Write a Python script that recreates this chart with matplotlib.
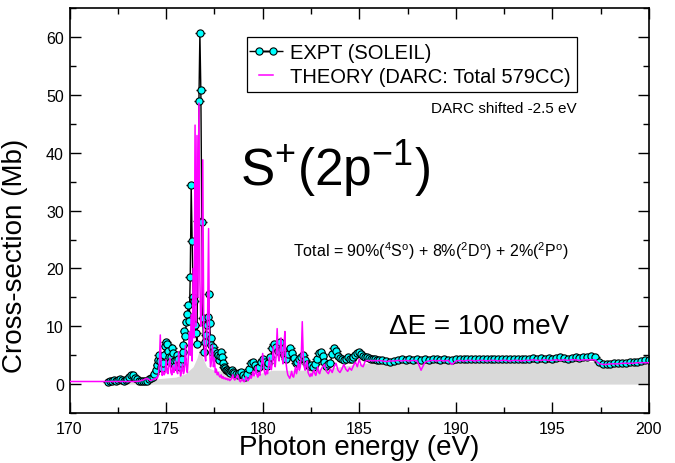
import numpy as np
import matplotlib
matplotlib.use("Agg")
import matplotlib.pyplot as plt
from matplotlib.ticker import MultipleLocator

plt.rcParams['font.family'] = ['Liberation Sans', 'DejaVu Sans']
plt.rcParams['mathtext.fontset'] = 'custom'
plt.rcParams['mathtext.rm'] = 'Liberation Sans'
plt.rcParams['mathtext.it'] = 'Liberation Sans:italic'
plt.rcParams['mathtext.default'] = 'regular'

# ---------------- Experimental data (SOLEIL) ----------------
expt_e_a = np.round(np.arange(172.0, 174.45, 0.1), 2)
expt_v_a = [0.4, 0.5, 0.6, 0.7, 0.6, 0.7, 0.8, 0.7, 0.6, 0.7, 0.9, 1.2, 1.6,
            1.5, 1.1, 0.8, 0.6, 0.5, 0.6, 0.5, 0.6, 0.8, 1.0, 1.3, 1.8]
expt_e_b = np.round(np.arange(174.5, 178.52, 0.05), 2)
expt_v_b = [2.5, 3.3, 4.2, 5.1, 4.0, 3.0, 2.8, 3.6, 5.0, 6.6,
            7.2, 7.0, 5.8, 4.6, 3.8, 4.6, 6.2, 5.4, 4.0, 3.1,
            4.2, 5.0, 4.4, 3.3, 3.0, 3.6, 4.3, 5.6, 6.7, 9.2,
            8.4, 10.8, 12.1, 13.6, 10.9, 18.5, 34.5, 24.7, 15.0, 14.3,
            10.3, 8.8, 7.0, 28.2, 49.0, 60.7, 50.8, 28.0, 11.5, 5.6,
            7.2, 8.5, 10.3, 11.6, 15.5, 10.6, 8.0, 6.7, 5.6, 6.5,
            5.7, 5.0, 4.6, 5.4, 5.0, 4.2, 4.8, 5.6, 4.7, 3.7,
            3.0, 2.7, 2.4, 2.5, 2.3, 2.1, 2.0, 2.2, 2.4, 2.1, 1.9]
expt_e_c = np.round(np.arange(178.6, 186.05, 0.1), 2)
expt_v_c = [1.7, 1.5, 1.9, 2.1, 1.6, 1.3, 1.8, 2.6, 3.6, 3.9,
            3.3, 2.7, 3.0, 3.8, 4.4, 3.8, 3.2, 3.6, 4.6, 6.2,
            7.0, 6.4, 5.8, 7.3, 6.1, 5.0, 4.3, 5.2, 6.3, 5.4,
            4.5, 3.6, 3.9, 4.4, 4.7, 5.0, 4.2, 3.5, 3.1, 3.3,
            3.0, 3.4, 4.4, 5.3, 5.6, 4.8, 3.8, 3.2, 3.4, 3.6,
            5.2, 6.2, 5.8, 4.9, 4.5, 4.3, 4.1, 4.4, 4.6, 4.4,
            4.3, 4.6, 5.0, 5.4, 5.6, 5.2, 4.8, 4.6, 4.7, 4.5,
            4.3, 4.4, 4.3, 4.2, 4.1]
expt_e_d = np.round(np.arange(186.2, 200.05, 0.2), 2)
expt_v_d = [4.2, 4.0, 3.9, 4.0, 4.2, 4.3, 4.2, 4.3, 4.2, 4.3,
            4.1, 4.3, 4.2, 4.3, 4.3, 4.2, 4.3, 4.2, 4.1, 4.3,
            4.3, 4.4, 4.3, 4.4, 4.3, 4.4, 4.3, 4.4, 4.3, 4.4,
            4.3, 4.4, 4.3, 4.4, 4.4, 4.3, 4.4, 4.3, 4.4, 4.5,
            4.4, 4.5, 4.4, 4.5, 4.4, 4.5, 4.6, 4.5, 4.4, 4.5,
            4.6, 4.5, 4.6, 4.7, 4.8, 4.7, 3.9, 3.4, 3.5, 3.5,
            3.6, 3.6, 3.6, 3.7, 3.8, 3.8, 3.9, 4.0, 4.1, 4.2]

# ---------------- Theory (DARC, shifted -2.5 eV) ----------------
th_e_a = np.round(np.arange(170.0, 174.45, 0.2), 2)
th_v_a = [0.45] * 18 + [0.5, 0.7, 1.0, 0.6, 0.9]
th_e_b = np.round(np.arange(174.45, 183.02, 0.05), 2)
th_v_b = [0.8, 1.2, 1.0, 1.6, 3.5, 8.5, 3.0, 1.5, 2.2, 1.6,
          2.0, 4.2, 2.0, 1.8, 3.6, 4.5, 2.0, 1.6, 3.2, 2.0,
          2.6, 4.0, 2.2, 1.8, 5.6, 3.0, 1.4, 2.2, 3.5, 1.8,
          2.4, 6.7, 3.2, 2.0, 4.5, 9.0, 5.0, 12.0, 4.0, 20.0,
          8.0, 44.8, 10.0, 43.0, 15.0, 48.6, 18.0, 10.0, 14.0, 38.8,
          9.0, 5.0, 4.0, 8.0, 12.0, 26.9, 6.0, 3.0, 4.0, 6.7,
          3.0, 4.5, 2.0, 2.6, 1.6, 2.0, 1.4, 1.2, 1.6, 1.0,
          1.3, 0.9, 1.1, 0.8, 1.0, 0.7, 0.9, 0.6, 0.8, 1.0,
          1.6, 1.0, 0.7, 0.9, 1.2, 1.6, 1.0, 0.6, 0.4, 0.7,
          0.9, 0.5, 0.4, 0.8, 1.3, 0.7, 0.6, 1.0, 1.5, 1.0,
          1.4, 2.2, 1.4, 1.8, 3.0, 1.6, 1.2, 2.0, 1.5, 2.4,
          3.6, 5.3, 3.0, 2.0, 1.6, 2.4, 1.8, 3.0, 4.6, 3.0,
          2.5, 4.0, 6.5, 4.0, 3.0, 5.0, 9.6, 5.0, 4.0, 6.0,
          8.0, 5.0, 3.5, 6.5, 9.1, 4.0, 2.5, 1.6, 1.3, 1.0,
          1.5, 2.2, 1.4, 1.2, 2.0, 3.0, 1.8, 2.6, 4.0, 2.4,
          3.0, 5.0, 10.8, 5.0, 3.0, 2.4, 3.5, 4.0, 2.0, 1.6,
          1.3, 1.8, 1.4, 2.0, 2.5, 1.8, 1.5, 2.2, 3.0, 2.0,
          1.8, 2.4]
th_e_c = np.round(np.arange(183.1, 186.05, 0.1), 2)
th_v_c = [3.0, 3.4, 2.2, 1.8, 2.6, 2.0, 3.0, 3.6, 2.4, 2.0,
          2.6, 3.4, 2.6, 2.2, 2.8, 2.4, 3.2, 3.8, 3.0, 4.3,
          3.2, 3.0, 3.9, 4.1, 4.0, 4.1, 4.0, 4.1, 4.0, 4.1]
th_e_d = np.round(np.arange(186.2, 200.05, 0.2), 2)
th_v_d = [4.0, 3.9, 4.0, 4.0, 4.1, 4.0, 4.1, 4.0, 4.1, 4.0,
          2.4, 3.8, 4.0, 4.1, 4.0, 4.1, 4.0, 4.1, 3.4, 4.0,
          4.1, 4.0, 4.1, 4.1, 4.0, 4.1, 4.1, 4.0, 4.1, 4.1,
          4.0, 4.1, 4.1, 4.0, 4.1, 4.1, 4.0, 4.1, 4.1, 4.2,
          4.1, 4.1, 4.2, 4.1, 4.1, 4.2, 4.1, 4.2, 4.1, 4.2,
          4.2, 4.1, 4.2, 4.2, 4.2, 4.2, 3.6, 3.4, 3.4, 3.5,
          3.5, 3.5, 3.6, 3.6, 3.6, 3.6, 3.7, 3.7, 3.7, 3.7]

# ---------------- Grey filled background curve ----------------
gray_e = [172.0, 174.0, 174.8, 175.5, 176.0, 176.4, 176.6, 176.75, 176.9,
          177.1, 177.4, 177.8, 178.2, 178.6, 179.0, 179.5, 180.0, 180.5,
          181.0, 182.0, 183.0, 184.0, 185.0, 186.0, 190.0, 195.0, 197.3,
          197.5, 198.0, 200.0]
gray_v = [0.5, 0.7, 1.0, 1.2, 1.8, 3.0, 4.5, 6.2, 4.5, 3.0, 2.5, 2.3, 1.8,
          1.2, 1.0, 1.4, 2.0, 2.4, 2.4, 2.4, 2.6, 3.0, 3.5, 3.8, 3.8, 3.9,
          3.9, 3.1, 3.0, 3.5]

expt_e = np.concatenate([expt_e_a, expt_e_b, expt_e_c, expt_e_d])
expt_v = np.array(expt_v_a + expt_v_b + expt_v_c + expt_v_d)
th_e = np.concatenate([th_e_a, th_e_b, th_e_c, th_e_d])
th_v = np.array(th_v_a + th_v_b + th_v_c + th_v_d)

fig = plt.figure(figsize=(6.75, 4.64), dpi=100)
ax = fig.add_axes([69.5 / 675, 50 / 464, (649 - 69.5) / 675, (414 - 9.3) / 464])

ax.fill_between(gray_e, 0, gray_v, color='#d9d9d9', lw=0, zorder=1)

h_expt = ax.errorbar(expt_e, expt_v, xerr=0.25, fmt='-o', color='black', lw=1.0,
                     elinewidth=1.0, capsize=0, mfc='#00ffff', mec='black',
                     mew=0.8, ms=5.2, zorder=2, label='EXPT (SOLEIL)')
h_th, = ax.plot(th_e, th_v, color='#ff00ff', lw=1.1, zorder=3,
                label='THEORY (DARC: Total 579CC)')

ax.set_xlim(170, 200)
ax.set_ylim(-5, 65)
ax.xaxis.set_major_locator(MultipleLocator(5))
ax.xaxis.set_minor_locator(MultipleLocator(2.5))
ax.yaxis.set_major_locator(MultipleLocator(10))
ax.yaxis.set_minor_locator(MultipleLocator(5))
ax.tick_params(which='both', direction='in', top=True, right=True, width=1.0)
ax.tick_params(which='major', length=8, labelsize=11.5)
ax.tick_params(axis='x', which='major', pad=5.5)
ax.tick_params(axis='y', which='major', pad=4)
ax.tick_params(which='minor', length=4)
for s in ax.spines.values():
    s.set_linewidth(1.2)

ax.set_xlabel('Photon energy (eV)', fontsize=20, labelpad=-1)
ax.set_ylabel('Cross-section (Mb)', fontsize=20)
ax.yaxis.set_label_coords(-0.072, 0.39)

leg = ax.legend([h_expt, h_th], ['EXPT (SOLEIL)', 'THEORY (DARC: Total 579CC)'],
                loc='upper right', bbox_to_anchor=(0.875, 0.929),
                borderaxespad=0, fontsize=14.5, frameon=True, fancybox=False,
                edgecolor='black', framealpha=1, numpoints=2,
                handlelength=1.3, handletextpad=0.55, borderpad=0.3,
                labelspacing=0.25)
leg.get_frame().set_linewidth(0.9)

ax.text(196.25, 47.1, 'DARC shifted -2.5 eV', fontsize=11, ha='right',
        va='baseline')
ax.text(178.83, 34.4, r'S$^{+}$(2p$^{-1}$)', fontsize=37, ha='left',
        va='baseline')
ax.text(181.55, 22.2,
        r'Total = 90%($^{4}$S$^{o}$) + 8%($^{2}$D$^{o}$) + 2%($^{2}$P$^{o}$)',
        fontsize=11.5, ha='left', va='baseline')
ax.text(186.55, 8.77, '\u0394E = 100 meV', fontsize=20, ha='left',
        va='baseline')

fig.savefig('out.png', dpi=100)
